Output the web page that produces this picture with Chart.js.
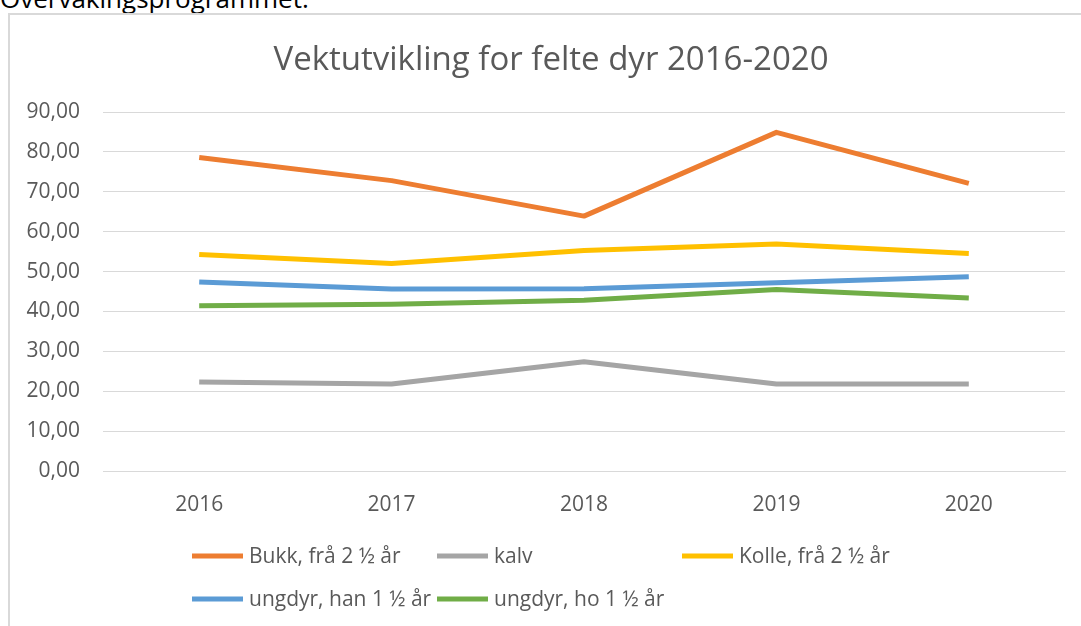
<!DOCTYPE html>
<html>
<head>
<meta charset="utf-8">
<script src="https://cdn.jsdelivr.net/npm/chart.js@4"></script>
<style>
  html, body { margin: 0; padding: 0; background: #fff; overflow: hidden; }
  body { width: 1081px; height: 626px; position: relative; font-family: "Open Sans", sans-serif; }
  #doctext { position: absolute; left: 0; top: -15px; font-size: 26px; line-height: 26px; color: #000; white-space: nowrap; }
  #frame { position: absolute; left: 8px; top: 13px; width: 1200px; height: 800px; border: 2px solid #d9d9d9; box-sizing: border-box; }
  #wrap { position: absolute; left: 0; top: 0; width: 1081px; height: 626px; }
</style>
</head>
<body>
<div id="doctext">Overvåkingsprogrammet.</div>
<div id="frame"></div>
<div id="wrap"><canvas id="c" width="1081" height="626"></canvas></div>
<script>
const chartTitle = "Vektutvikling for felte dyr 2016-2020";
const categories = ["2016", "2017", "2018", "2019", "2020"];
const seriesNames = ["Bukk, frå 2 ½ år", "kalv", "Kolle, frå 2 ½ år", "ungdyr, han 1 ½ år", "ungdyr, ho 1 ½ år"];
const bukk = [78.6, 72.8, 63.9, 84.9, 72.1];
const kalv = [22.3, 21.8, 27.4, 21.8, 21.8];
const kolle = [54.3, 52.0, 55.3, 56.9, 54.5];
const ungdyrHan = [47.4, 45.6, 45.7, 47.2, 48.7];
const ungdyrHo = [41.4, 41.8, 42.8, 45.5, 43.4];
const yTickLabels = ["0,00", "10,00", "20,00", "30,00", "40,00", "50,00", "60,00", "70,00", "80,00", "90,00"];
const colors = ["#ED7D31", "#A5A5A5", "#FFC000", "#5B9BD5", "#70AD47"];
const seriesValues = [bukk, kalv, kolle, ungdyrHan, ungdyrHo];

const FONT = "'Open Sans', sans-serif";
const TEXT = "#595959";

const titlePlugin = {
  id: 'customTitle',
  afterDraw(chart) {
    const ctx = chart.ctx;
    ctx.save();
    ctx.font = "33px " + FONT;
    ctx.fillStyle = TEXT;
    ctx.textAlign = 'center';
    ctx.textBaseline = 'alphabetic';
    ctx.fillText(chartTitle, 551, 70);
    ctx.restore();
  }
};

const legendPlugin = {
  id: 'customLegend',
  afterDraw(chart) {
    const ctx = chart.ctx;
    const cols = [192, 437, 682];
    const rows = [556, 599];
    ctx.save();
    ctx.font = "21px " + FONT;
    ctx.textBaseline = 'middle';
    ctx.textAlign = 'left';
    chart.data.datasets.forEach((ds, i) => {
      const x = cols[i % 3];
      const y = rows[Math.floor(i / 3)];
      ctx.strokeStyle = ds.borderColor;
      ctx.lineWidth = 5;
      ctx.lineCap = 'butt';
      ctx.beginPath();
      ctx.moveTo(x, y);
      ctx.lineTo(x + 51, y);
      ctx.stroke();
      ctx.fillStyle = TEXT;
      ctx.fillText(ds.label, x + 57, y + 1);
    });
    ctx.restore();
  }
};

new Chart(document.getElementById('c'), {
  type: 'line',
  data: {
    labels: categories,
    datasets: seriesNames.map((name, i) => ({
      label: name,
      data: seriesValues[i],
      borderColor: colors[i],
      backgroundColor: colors[i],
      borderWidth: 5,
      pointRadius: 0,
      pointHoverRadius: 0,
      tension: 0,
      fill: false,
      borderJoinStyle: 'round'
    }))
  },
  plugins: [titlePlugin, legendPlugin],
  options: {
    responsive: false,
    animation: false,
    devicePixelRatio: 1,
    layout: { padding: { left: 9, right: 16, top: 112, bottom: 110 } },
    plugins: {
      legend: { display: false },
      title: { display: false },
      tooltip: { enabled: false }
    },
    scales: {
      x: {
        offset: true,
        grid: { display: false, drawTicks: false },
        border: { display: true, color: '#d9d9d9', width: 1 },
        ticks: { color: TEXT, font: { family: FONT, size: 21 }, padding: 21, maxRotation: 0 },
        afterFit(scale) { scale.height = 45; }
      },
      y: {
        min: 0,
        max: 90,
        ticks: {
          stepSize: 10,
          color: TEXT,
          font: { family: FONT, size: 21 },
          padding: 23,
          callback: (v, i) => yTickLabels[i]
        },
        grid: { color: '#d9d9d9', lineWidth: 1, drawTicks: false },
        border: { display: false },
        afterFit(scale) { scale.width = 94; }
      }
    }
  }
});
</script>
</body>
</html>
